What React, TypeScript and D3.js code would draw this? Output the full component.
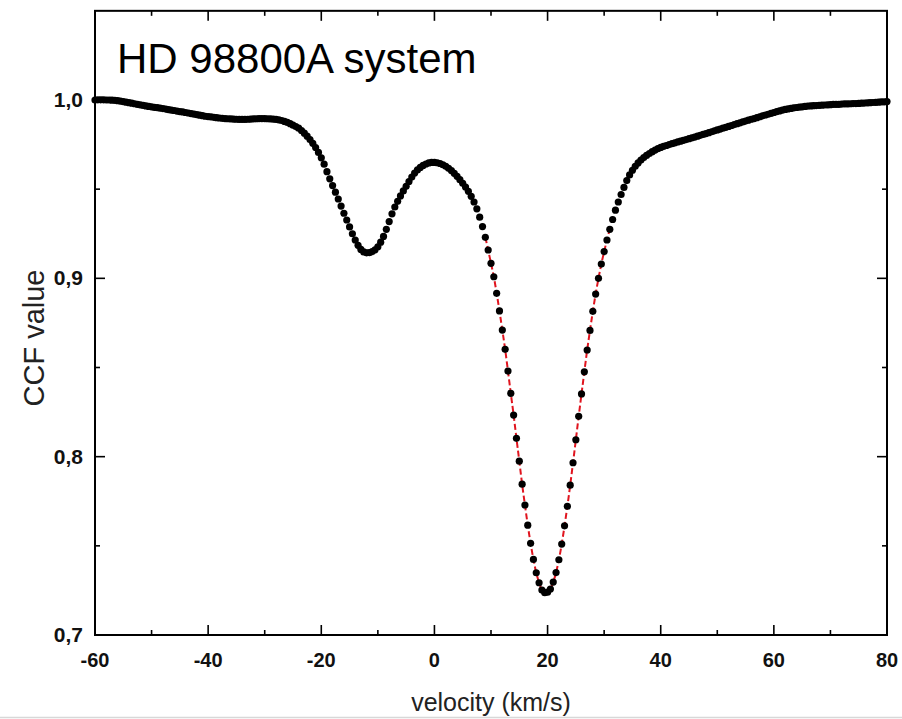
import React from "react";
import * as d3 from "d3";

// ---- data ----
const V_START = -60;
const V_STEP = 0.5;
// CCF values sampled every 0.5 km/s from -60 to 80 km/s
const ccf: number[] = [
  1.0000, 1.0001, 1.0001, 1.0001, 1.0000, 1.0000, 0.9999, 0.9998, 0.9996, 0.9994,
  0.9991, 0.9988, 0.9985, 0.9982, 0.9979, 0.9976, 0.9973, 0.9970, 0.9967, 0.9964,
  0.9962, 0.9959, 0.9957, 0.9954, 0.9952, 0.9949, 0.9946, 0.9943, 0.9941, 0.9938,
  0.9935, 0.9933, 0.9930, 0.9927, 0.9924, 0.9921, 0.9918, 0.9915, 0.9912, 0.9909,
  0.9907, 0.9905, 0.9903, 0.9901, 0.9899, 0.9897, 0.9896, 0.9895, 0.9894, 0.9893,
  0.9892, 0.9891, 0.9891, 0.9891, 0.9892, 0.9893, 0.9894, 0.9895, 0.9896, 0.9896,
  0.9896, 0.9895, 0.9894, 0.9893, 0.9891, 0.9888, 0.9885, 0.9880, 0.9874, 0.9867,
  0.9859, 0.9851, 0.9842, 0.9829, 0.9814, 0.9797, 0.9778, 0.9757, 0.9733, 0.9706,
  0.9676, 0.9640, 0.9598, 0.9558, 0.9520, 0.9483, 0.9445, 0.9405, 0.9365, 0.9327,
  0.9288, 0.9250, 0.9215, 0.9185, 0.9162, 0.9148, 0.9143, 0.9144, 0.9150, 0.9160,
  0.9177, 0.9203, 0.9235, 0.9275, 0.9318, 0.9362, 0.9400, 0.9432, 0.9462, 0.9490,
  0.9516, 0.9543, 0.9568, 0.9590, 0.9608, 0.9622, 0.9633, 0.9641, 0.9647, 0.9650,
  0.9650, 0.9648, 0.9644, 0.9637, 0.9628, 0.9617, 0.9604, 0.9589, 0.9572, 0.9553,
  0.9533, 0.9512, 0.9488, 0.9460, 0.9428, 0.9390, 0.9343, 0.9290, 0.9230, 0.9159,
  0.9084, 0.9009, 0.8916, 0.8817, 0.8710, 0.8602, 0.8480, 0.8355, 0.8233, 0.8103,
  0.7975, 0.7846, 0.7729, 0.7616, 0.7514, 0.7424, 0.7349, 0.7293, 0.7252, 0.7237,
  0.7240, 0.7258, 0.7297, 0.7350, 0.7422, 0.7510, 0.7612, 0.7722, 0.7840, 0.7966,
  0.8095, 0.8226, 0.8352, 0.8476, 0.8598, 0.8708, 0.8815, 0.8912, 0.9000, 0.9080,
  0.9150, 0.9215, 0.9275, 0.9330, 0.9382, 0.9428, 0.9470, 0.9510, 0.9548, 0.9580,
  0.9606, 0.9628, 0.9647, 0.9663, 0.9677, 0.9689, 0.9700, 0.9710, 0.9719, 0.9727,
  0.9734, 0.9740, 0.9745, 0.9750, 0.9755, 0.9760, 0.9765, 0.9769, 0.9774, 0.9778,
  0.9783, 0.9788, 0.9792, 0.9797, 0.9802, 0.9807, 0.9812, 0.9817, 0.9822, 0.9827,
  0.9832, 0.9837, 0.9842, 0.9847, 0.9852, 0.9857, 0.9862, 0.9867, 0.9872, 0.9877,
  0.9882, 0.9887, 0.9892, 0.9896, 0.9901, 0.9906, 0.9911, 0.9916, 0.9920, 0.9925,
  0.9930, 0.9935, 0.9939, 0.9943, 0.9947, 0.9950, 0.9953, 0.9956, 0.9958, 0.9960,
  0.9962, 0.9964, 0.9966, 0.9967, 0.9968, 0.9969, 0.9970, 0.9971, 0.9972, 0.9973,
  0.9974, 0.9975, 0.9975, 0.9976, 0.9977, 0.9978, 0.9978, 0.9979, 0.9980, 0.9980,
  0.9981, 0.9982, 0.9983, 0.9984, 0.9985, 0.9986, 0.9987, 0.9988, 0.9989, 0.9990,
  0.9991,
];
const FIT_RANGE = [9, 31];
const xMajorTicks = [-60, -40, -20, 0, 20, 40, 60, 80];
const xMinorTicks = [-50, -30, -10, 10, 30, 50, 70];
const yMajorTicks = [0.7, 0.8, 0.9, 1.0];
const yMinorTicks = [0.75, 0.85, 0.95];
const TITLE = "HD 98800A system";
const X_LABEL = "velocity (km/s)";
const Y_LABEL = "CCF value";

const W = 902;
const H = 719;
const FONT = "'Liberation Sans', Arial, Helvetica, sans-serif";

export default function App() {
  const pts = ccf.map((c, i) => ({ v: V_START + i * V_STEP, c }));
  const x = d3.scaleLinear().domain([-60, 80]).range([95, 887]);
  const y = d3.scaleLinear().domain([0.7, 1.0]).range([635, 100]);
  const top = y(1.05);
  const left = x(-60), right = x(80), bottom = y(0.7);

  const fitPts = pts.filter((p) => p.v >= FIT_RANGE[0] && p.v <= FIT_RANGE[1]);
  const line = d3
    .line<{ v: number; c: number }>()
    .x((d) => x(d.v))
    .y((d) => y(d.c))
    .curve(d3.curveMonotoneX);

  const fmt = (t: number) => t.toFixed(1).replace(".", ",");

  return (
    <svg
      width={W}
      height={H}
      style={{ position: "absolute", left: 0, top: 0, background: "#fff" }}
      fontFamily={FONT}
    >
      <rect x={0} y={0} width={W} height={H} fill="#fff" />
      {/* ticks */}
      {xMajorTicks.map((t) => (
        <g key={"xM" + t}>
          <line x1={x(t)} x2={x(t)} y1={bottom} y2={bottom - 10} stroke="#000" strokeWidth={1.6} />
          <line x1={x(t)} x2={x(t)} y1={top} y2={top + 10} stroke="#000" strokeWidth={1.6} />
          <text x={x(t)} y={667} textAnchor="middle" fontSize={20} fontWeight="bold" fill="#111">
            {t}
          </text>
        </g>
      ))}
      {xMinorTicks.map((t) => (
        <g key={"xm" + t}>
          <line x1={x(t)} x2={x(t)} y1={bottom} y2={bottom - 5} stroke="#000" strokeWidth={1.6} />
          <line x1={x(t)} x2={x(t)} y1={top} y2={top + 5} stroke="#000" strokeWidth={1.6} />
        </g>
      ))}
      {yMajorTicks.map((t) => (
        <g key={"yM" + t}>
          <line x1={left} x2={left + 10} y1={y(t)} y2={y(t)} stroke="#000" strokeWidth={1.6} />
          <line x1={right} x2={right - 10} y1={y(t)} y2={y(t)} stroke="#000" strokeWidth={1.6} />
          <text x={83} y={y(t) + 7} textAnchor="end" fontSize={21} fontWeight="bold" fill="#111">
            {fmt(t)}
          </text>
        </g>
      ))}
      {yMinorTicks.map((t) => (
        <g key={"ym" + t}>
          <line x1={left} x2={left + 5} y1={y(t)} y2={y(t)} stroke="#000" strokeWidth={1.6} />
          <line x1={right} x2={right - 5} y1={y(t)} y2={y(t)} stroke="#000" strokeWidth={1.6} />
        </g>
      ))}
      {/* frame */}
      <rect x={left} y={top} width={right - left} height={bottom - top} fill="none" stroke="#000" strokeWidth={2} />
      {/* fit line */}
      <path d={line(fitPts) || ""} fill="none" stroke="#e0141e" strokeWidth={2} strokeDasharray="6,3" />
      {/* data points */}
      {pts.map((p, i) => (
        <circle key={i} cx={x(p.v)} cy={y(p.c)} r={3.6} fill="#000" />
      ))}
      {/* title */}
      <text x={117} y={73} fontSize={42} fill="#000">
        {TITLE}
      </text>
      {/* axis labels */}
      <text x={491} y={711} textAnchor="middle" fontSize={25} fill="#222">
        {X_LABEL}
      </text>
      <text
        transform={`translate(44, 338) rotate(-90)`}
        textAnchor="middle"
        fontSize={29}
        fill="#222"
      >
        {Y_LABEL}
      </text>
      <line x1={0} x2={W} y1={717.5} y2={717.5} stroke="#d8d8d8" strokeWidth={1.5} />
    </svg>
  );
}
